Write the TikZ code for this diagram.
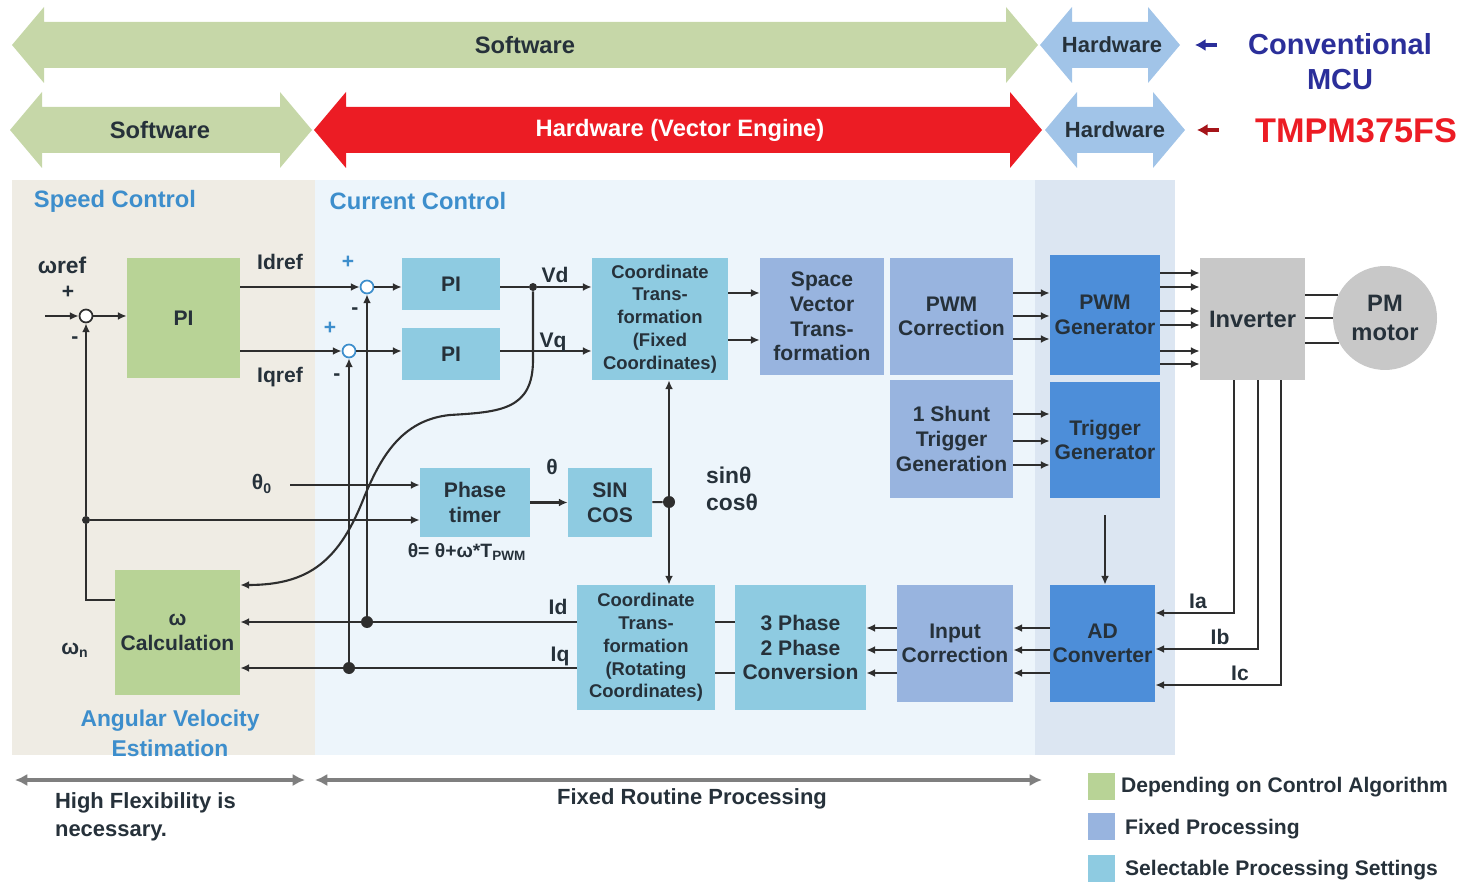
\documentclass[tikz,border=0pt]{standalone}
\usepackage{fontspec}
\setmainfont{Liberation Sans}
\definecolor{algo}{HTML}{B8D396}
\definecolor{fixd}{HTML}{98B4DF}
\definecolor{sel}{HTML}{8ECBE1}
\definecolor{hwblk}{HTML}{4D8ED9}
\definecolor{hwarr}{HTML}{A1C4E8}
\definecolor{swarr}{HTML}{C6D7A8}
\definecolor{vecred}{HTML}{EC1C24}
\definecolor{tanbg}{HTML}{EFECE4}
\definecolor{curbg}{HTML}{EDF5FB}
\definecolor{hwbg}{HTML}{DCE6F2}
\definecolor{invgray}{HTML}{C8C8C8}
\definecolor{wire}{HTML}{2E2E2E}
\definecolor{txt}{HTML}{26313A}
\definecolor{ctl}{HTML}{3D8ECC}
\definecolor{navy}{HTML}{2B2F9A}
\definecolor{arrgray}{HTML}{7F7F7F}
\usetikzlibrary{positioning, arrows.meta}
% wide arrow band: colour, left x, right x, centre y
\newcommand{\bandarrow}[4]{%
  \fill[#1] (#2,#4) -- ({#2+32},{#4-38}) -- ({#2+32},{#4-23}) -- ({#3-32},{#4-23})
    -- ({#3-32},{#4-38}) -- (#3,#4) -- ({#3-32},{#4+38}) -- ({#3-32},{#4+23})
    -- ({#2+32},{#4+23}) -- ({#2+32},{#4+38}) -- cycle;}

\begin{document}
\begin{tikzpicture}[x=0.02cm, y=-0.02cm,
  blk/.style={inner sep=1pt, align=center, text=txt, font=\fontsize{12}{14}\selectfont\bfseries},
  algob/.style={blk, fill=algo},
  fixdb/.style={blk, fill=fixd},
  selb/.style={blk, fill=sel},
  hwb/.style={blk, fill=hwblk},
  coordb/.style={selb, font=\fontsize{10.5}{13}\selectfont\bfseries},
  lbl/.style={inner sep=1pt, text=txt, font=\fontsize{12}{14}\selectfont\bfseries},
  bandtxt/.style={inner sep=1pt, text=txt, font=\fontsize{13.5}{16}\selectfont\bfseries},
  ctltxt/.style={inner sep=1pt, text=ctl, font=\fontsize{13.5}{16}\selectfont\bfseries},
  wire/.style={line width=1.2pt, draw=wire},
  arr/.style={wire, -{Latex[length=5pt,width=4.5pt]}},
  sumc/.style={circle, draw=wire, fill=white, line width=1pt, inner sep=0pt, minimum size=0.26cm},
  dot/.style={circle, fill=wire, inner sep=0pt, minimum size=#1},
  dot/.default=0.16cm,
  span/.style={line width=1.8pt, draw=arrgray, {Latex[length=7pt,width=7pt]}-{Latex[length=7pt,width=7pt]}}]
\useasboundingbox (0,0) rectangle (1476,884);

% bands at the top
\bandarrow{swarr}{12}{1038}{45}
\bandarrow{hwarr}{1040}{1180}{45}
\bandarrow{swarr}{10}{312}{130}
\bandarrow{vecred}{314}{1042}{130}
\bandarrow{hwarr}{1045}{1185}{130}
\node[bandtxt] (sw1) at (525,45) {Software};
\node[bandtxt, font=\fontsize{12.5}{15}\selectfont\bfseries] (hw1) at (1112,45) {Hardware};
\node[bandtxt] (sw2) at (160,130) {Software};
\node[bandtxt, text=white] (vec) at (680,130) {Hardware (Vector Engine)};
\node[bandtxt, font=\fontsize{12.5}{15}\selectfont\bfseries] (hw2) at (1115,130) {Hardware};
\draw[navy, line width=2.5pt, -{Latex[length=6pt,width=7pt]}] (1217,45) -- (1195,45);
\draw[vecred!70!black, line width=2.5pt, -{Latex[length=6pt,width=7pt]}] (1219,130) -- (1197,130);
\node[align=center, text=navy, font=\fontsize{16.5}{20}\selectfont\bfseries] (mcu) at (1340,62) {Conventional\\MCU};
\node[text=vecred, font=\fontsize{19.5}{22}\selectfont\bfseries] (tmpm) at (1356,131) {TMPM375FS};

% regions
\fill[tanbg] (12,180) rectangle (315,755);
\fill[curbg] (315,180) rectangle (1035,755);
\fill[hwbg] (1035,180) rectangle (1175,755);
\node[ctltxt] (spd) at (115,201) {Speed Control};
\node[ctltxt] (cur) at (418,201) {Current Control};

% blocks
\node[algob, minimum width=2.26cm, minimum height=2.4cm] (piw) at (183.5,318) {PI};
\node[selb, minimum width=1.96cm, minimum height=1.04cm] (pid) at (451,284) {PI};
\node[selb, minimum width=1.96cm, minimum height=1.04cm] (piq) at (451,354) {PI};
\node[coordb, minimum width=2.72cm, minimum height=2.44cm] (ctf) at (660,319) {Coordinate\\Trans-\\formation\\(Fixed\\Coordinates)};
\node[fixdb, minimum width=2.48cm, minimum height=2.34cm] (svt) at (822,316.5) {Space\\Vector\\Trans-\\formation};
\node[fixdb, minimum width=2.46cm, minimum height=2.34cm] (pwmc) at (951.5,316.5) {PWM\\Correction};
\node[fixdb, minimum width=2.46cm, minimum height=2.36cm] (shunt) at (951.5,439) {1 Shunt\\Trigger\\Generation};
\node[hwb, minimum width=2.2cm, minimum height=2.4cm] (pwmg) at (1105,315) {PWM\\Generator};
\node[hwb, minimum width=2.2cm, minimum height=2.32cm] (trig) at (1105,440) {Trigger\\Generator};
\node[blk, fill=invgray, minimum width=2.1cm, minimum height=2.44cm, font=\fontsize{13.5}{16}\selectfont\bfseries] (inv) at (1252.5,319) {Inverter};
\node[blk, circle, fill=invgray, minimum size=2.08cm, font=\fontsize{13.5}{16}\selectfont\bfseries] (motor) at (1385,318) {PM\\motor};
\node[hwb, minimum width=2.1cm, minimum height=2.34cm] (adc) at (1102.5,643.5) {AD\\Converter};
\node[fixdb, minimum width=2.32cm, minimum height=2.34cm] (inc) at (955,643.5) {Input\\Correction};
\node[selb, minimum width=2.62cm, minimum height=2.5cm] (conv) at (800.5,647.5) {3 Phase\\2 Phase\\Conversion};
\node[coordb, minimum width=2.76cm, minimum height=2.5cm] (ctr) at (646,647.5) {Coordinate\\Trans-\\formation\\(Rotating\\Coordinates)};
\node[algob, minimum width=2.5cm, minimum height=2.5cm] (wcal) at (177.5,632.5) {ω\\Calculation};
\node[selb, minimum width=2.2cm, minimum height=1.38cm] (ptim) at (475,502.5) {Phase\\timer};
\node[selb, minimum width=1.68cm, minimum height=1.38cm] (sico) at (610,502.5) {SIN\\COS};
\node[ctltxt, align=center, font=\fontsize{13}{17}\selectfont\bfseries] (ave) at (170,733) {Angular Velocity\\Estimation};

% junctions
\node[sumc] (sw) at (86,316) {};
\node[sumc, draw=ctl] (s1) at (367,287) {};
\node[sumc, draw=ctl] (s2) at (349,351) {};
\node[dot] (vdj) at (533,287) {};
\node[dot=0.24cm] (jd) at (367,622) {};
\node[dot=0.24cm] (jq) at (349,668) {};
\node[dot=0.24cm] (scj) at (669,502) {};
\node[dot] (jw) at (86,520) {};

% speed loop
\node[lbl, font=\fontsize{13}{15}\selectfont\bfseries] (wref) at (62,265) {ωref};
\node[lbl] (pw) at (68,292) {+};
\node[lbl] (mw) at (75,340) {-};
\coordinate (win) at (45,316);
\draw[arr] (win) -- (sw);
\draw[arr] (sw) -- (piw.west |- sw);
\draw[arr] (piw.east |- s1) -- (s1);
\draw[arr] (piw.east |- s2) -- (s2);
\node[lbl] (idref) at (280,262) {Idref};
\node[lbl] (iqref) at (280,377) {Iqref};
\node[lbl, text=ctl] (p1) at (348,262) {+};
\node[lbl] (m1) at (355,311) {-};
\node[lbl, text=ctl] (p2) at (330,328) {+};
\node[lbl] (m2) at (337,377) {-};

% current loop
\draw[arr] (s1) -- (pid.west |- s1);
\draw[arr] (s2) -- (piq.west |- s2);
\draw[wire] (pid.east |- s1) -- (vdj);
\draw[arr] (vdj) -- (ctf.west |- vdj);
\draw[arr] (piq.east |- s2) -- (ctf.west |- s2);
\node[lbl] (vd) at (555,275) {Vd};
\node[lbl] (vq) at (553,342) {Vq};
\draw[arr] (ctf.east |- 0,293) -- (svt.west |- 0,293);
\draw[arr] (ctf.east |- 0,340) -- (svt.west |- 0,340);
\foreach \y in {293,316,339}
  \draw[arr] (pwmc.east |- 0,\y) -- (pwmg.west |- 0,\y);
\foreach \y in {414,441,465}
  \draw[arr] (shunt.east |- 0,\y) -- (trig.west |- 0,\y);
\foreach \y in {273,287,311,325,351,364}
  \draw[arr] (pwmg.east |- 0,\y) -- (inv.west |- 0,\y);
\draw[wire] (inv.east |- motor.154) -- (motor.154);
\draw[wire] (inv.east |- motor.west) -- (motor.west);
\draw[wire] (inv.east |- motor.208) -- (motor.208);

% current feedback
\draw[arr] ([yshift=-0.34cm]trig.south) -- (trig.south |- adc.north);
\draw[arr] (1234,0 |- inv.south) |- (adc.east |- 0,613);
\draw[arr] (1258,0 |- inv.south) |- (adc.east |- 0,649);
\draw[arr] (1281,0 |- inv.south) |- (adc.east |- 0,685);
\node[lbl] (ia) at (1198,601) {Ia};
\node[lbl] (ib) at (1220,637) {Ib};
\node[lbl] (ic) at (1240,673) {Ic};
\foreach \y in {628,650,673} {
  \draw[arr] (adc.west |- 0,\y) -- (inc.east |- 0,\y);
  \draw[arr] (inc.west |- 0,\y) -- (conv.east |- 0,\y);
}
\draw[wire] (conv.west |- 0,622) -- (ctr.east |- 0,622);
\draw[wire] (conv.west |- 0,673) -- (ctr.east |- 0,673);
\draw[arr] (ctr.west |- jd) -- (wcal.east |- jd);
\draw[arr] (ctr.west |- jq) -- (wcal.east |- jq);
\node[lbl] (idl) at (558,607) {Id};
\node[lbl] (iql) at (560,656) {Iq};
\draw[arr] (jd) -- (s1);
\draw[arr] (jq) -- (s2);

% angle path
\draw[wire] (wcal.west |- 0,600) -| (jw);
\draw[arr] (jw) -- (sw);
\node[lbl] (wn) at (75,650) {ω\textsubscript{n}};
\draw[arr] (jw) -- (ptim.west |- jw);
\node[lbl] (th0) at (262,484) {θ\textsubscript{0}};
\coordinate (th0in) at (290,485);
\draw[arr] (th0in) -- (ptim.west |- th0in);
\node[lbl, font=\fontsize{11}{13}\selectfont\bfseries] (tpw) at (467,552) {θ= θ+ω*T\textsubscript{PWM}};
\draw[arr] (ptim) -- (sico);
\node[lbl] (th) at (552,467) {θ};
\draw[wire] (sico) -- (scj);
\draw[arr] (scj) -- (scj |- ctf.south);
\draw[arr] (scj) -- (scj |- ctr.north);
\node[lbl, align=left, font=\fontsize{13}{15}\selectfont\bfseries] (sc) at (732,489) {sinθ\\cosθ};
\draw[arr] (vdj) -- (533,360) .. controls (533,410) and (500,412) .. (450,415)
  .. controls (400,420) and (380,460) .. (365,495)
  .. controls (340,560) and (310,585) .. (wcal.east |- 0,585);

% spans and legend
\coordinate (fl1) at (15,780);
\coordinate (fl2) at (305,780);
\coordinate (fx1) at (315,780);
\coordinate (fx2) at (1042,780);
\draw[span] (fl1) -- (fl2);
\draw[span] (fx1) -- (fx2);
\node[lbl, align=left, anchor=north west, font=\fontsize{12.5}{16}\selectfont\bfseries] (flex) at (53,790) {High Flexibility is\\necessary.};
\node[lbl, font=\fontsize{12.5}{15}\selectfont\bfseries] (fixr) at (692,799) {Fixed Routine Processing};
\node[fill=algo, minimum size=0.54cm, inner sep=0pt] (lg1) at (1101,786) {};
\node[fill=fixd, minimum size=0.54cm, inner sep=0pt] (lg2) at (1101,826) {};
\node[fill=sel, minimum size=0.54cm, inner sep=0pt] (lg3) at (1101,868) {};
\node[lbl, anchor=west] (lg1t) at (1119,787) {Depending on Control Algorithm};
\node[lbl, anchor=west] (lg2t) at (1123,829) {Fixed Processing};
\node[lbl, anchor=west] (lg3t) at (1123,870) {Selectable Processing Settings};
\end{tikzpicture}
\end{document}
